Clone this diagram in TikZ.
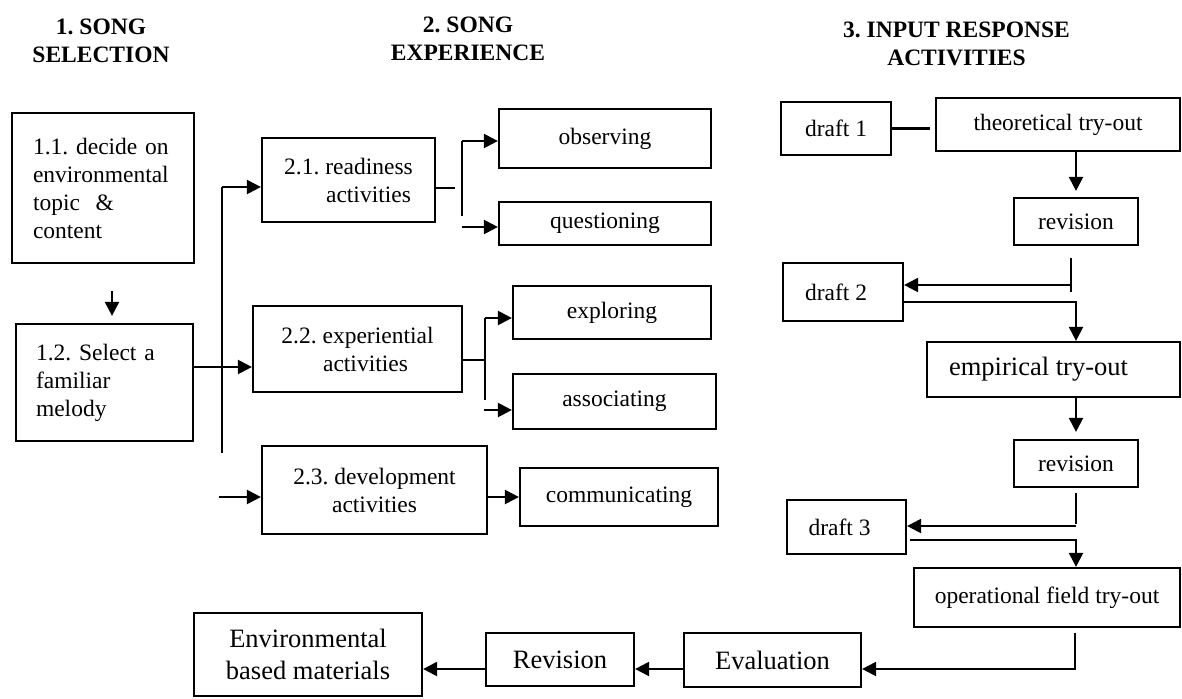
\documentclass[tikz,border=0pt]{standalone}
\usepackage{fontspec}
\setmainfont{Liberation Serif}
\usetikzlibrary{arrows.meta}
\frenchspacing
\begin{document}
\begin{tikzpicture}[x=1pt,y=-1pt,
  box/.style={draw, line width=2.2pt, inner sep=2pt, align=center, font=\frenchspacing\fontsize{23.5}{28}\selectfont},
  big/.style={font=\frenchspacing\fontsize{26.5}{32}\selectfont},
  hdr/.style={align=center, inner sep=0pt, font=\frenchspacing\bfseries\fontsize{23.5}{28.5}\selectfont},
  ln/.style={line width=2.2pt},
  arr/.style={line width=2.2pt, -{Triangle[length=14pt,width=14pt]}}]
\useasboundingbox (0,0) rectangle (1182,698);
% headers
\node[hdr] (h1) at (101,41) {1. SONG\\SELECTION};
\node[hdr] (h2) at (468,39) {2. SONG\\EXPERIENCE};
\node[hdr] (h3) at (956.5,44) {3. INPUT RESPONSE\\ACTIVITIES};
% column 1
\node[box, align=left, text width=140pt, inner xsep=21pt, minimum width=182pt, minimum height=150pt] (b11) at (103,188) {1.1. decide on\\environmental\\topic~~\&\\content};
\node[box, align=left, text width=137pt, inner xsep=20pt, minimum width=177pt, minimum height=117pt] (b12) at (104.5,382.5) {1.2. Select a\\familiar\\melody};
% column 2
\node[box, minimum width=173pt, minimum height=84pt] (b21) at (348.5,180) {2.1. readiness\\\hspace*{40pt}activities};
\node[box, minimum width=212pt, minimum height=59pt] (obs) at (605,138.5) {observing};
\node[box, minimum width=212pt, minimum height=43pt] (que) at (605,223.5) {questioning};
\node[box, minimum width=209pt, minimum height=86pt] (b22) at (357.5,349) {2.2. experiential\\\hspace*{16pt}activities};
\node[box, minimum width=198pt, minimum height=53pt] (exp) at (612,312.5) {exploring};
\node[box, minimum width=203pt, minimum height=55pt] (ass) at (614.5,401.5) {associating};
\node[box, minimum width=225pt, minimum height=88pt] (b23) at (374.5,490) {2.3. development\\activities};
\node[box, minimum width=198pt, minimum height=58pt] (com) at (619,497) {communicating};
% column 3
\node[box, minimum width=110pt, minimum height=53pt] (d1) at (836,128.5) {draft 1};
\node[box, minimum width=244pt, minimum height=53pt] (theo) at (1058,124.5) {theoretical try-out};
\node[box, minimum width=124pt, minimum height=47pt] (rev1) at (1076,221.5) {revision};
\node[box, minimum width=120pt, minimum height=58pt] (d2) at (843,292) {draft 2\hspace*{14pt}};
\node[box, big, minimum width=253pt, minimum height=55pt] (emp) at (1053.5,369.5) {empirical try-out\hspace*{30pt}};
\node[box, minimum width=124pt, minimum height=47pt] (rev2) at (1076,463.5) {revision};
\node[box, minimum width=119pt, minimum height=54pt] (d3) at (846.5,527) {draft 3\hspace*{14pt}};
\node[box, minimum width=266pt, minimum height=59pt] (oper) at (1047,597.5) {operational field try-out};
% bottom row
\node[box, big, minimum width=177pt, minimum height=54pt] (eval) at (772.5,660) {Evaluation};
\node[box, big, minimum width=148pt, minimum height=53pt] (rev) at (560,659.5) {Revision};
\node[box, big, minimum width=228pt, minimum height=83pt] (env) at (308,654.5) {Environmental\\based materials};
% coordinates
\coordinate (bT) at (222,187);
\coordinate (bB) at (222,453);
\coordinate (j12) at (193,367);
\coordinate (a23) at (219,497);
\coordinate (s21) at (455,188);
\coordinate (v21a) at (462,141);
\coordinate (v21b) at (462,216);
\coordinate (q21) at (462,227);
\coordinate (s22) at (485,360);
\coordinate (v22a) at (485,318);
\coordinate (v22b) at (485,400);
\coordinate (q22) at (484,410);
\coordinate (v1a) at (1071,258);
\coordinate (v1b) at (1071,292);
\coordinate (c1) at (1071,285);
\coordinate (c2) at (1076,302);
\coordinate (v2a) at (1076,493);
\coordinate (v2b) at (1076,524);
\coordinate (c5) at (1076,526);
\coordinate (c3s) at (910,540);
\coordinate (c3) at (1076,540);
\coordinate (v3a) at (1075,633);
\coordinate (c4) at (1075,669);
% column 1 connectors
\draw[arr, shorten <=27pt, shorten >=7pt] ([xshift=9pt]b11.south) -- ([xshift=7.5pt]b12.north);
\draw[ln] (bT) -- (bB);
\draw[arr] (bT) -- (bT -| b21.west);
\draw[arr] (j12 -| b12.east) -- (j12 -| b22.west);
\draw[arr] (a23) -- (a23 -| b23.west);
% column 2 connectors
\draw[ln] (s21 -| b21.east) -- (s21);
\draw[ln] (v21a) -- (v21b);
\draw[arr] (v21a) -- (v21a -| obs.west);
\draw[arr] (q21) -- (q21 -| que.west);
\draw[ln] (s22 -| b22.east) -- (s22);
\draw[ln] (v22a) -- (v22b);
\draw[arr] (v22a) -- (v22a -| exp.west);
\draw[arr] (q22) -- (q22 -| ass.west);
\draw[arr] (a23 -| b23.east) -- (a23 -| com.west);
% column 3 connectors
\draw[ln, shorten >=5pt] (d1.east) -- (d1.east -| theo.west);
\draw[arr, shorten >=6pt] (theo.south -| rev1.north) -- (rev1.north);
\draw[ln] (v1a) -- (v1b);
\draw[arr] (c1) -- (c1 -| d2.east);
\draw[arr] (c2 -| d2.east) -- (c2) -- (c2 |- emp.north);
\draw[arr, shorten >=7pt] (emp.south -| rev2.north) -- (rev2.north);
\draw[ln] (v2a) -- (v2b);
\draw[arr] (c5) -- (c5 -| d3.east);
\draw[arr] (c3s) -- (c3) -- (c3 |- oper.north);
\draw[arr] (v3a) -- (c4) -- (c4 -| eval.east);
\draw[arr] (c4 -| eval.west) -- (c4 -| rev.east);
\draw[arr] (c4 -| rev.west) -- (c4 -| env.east);
\end{tikzpicture}
\end{document}
